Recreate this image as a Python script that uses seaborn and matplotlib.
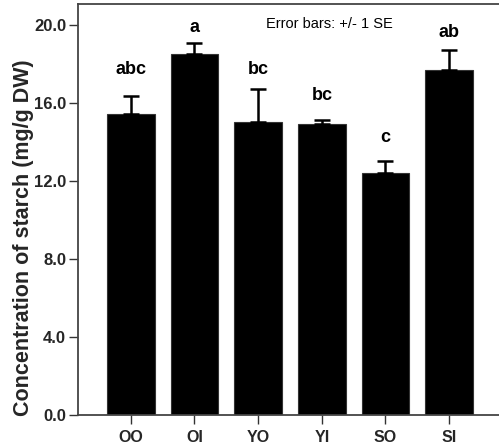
import matplotlib
matplotlib.use("Agg")
import matplotlib.pyplot as plt
import seaborn as sns
import pandas as pd

# Starch concentration per treatment group (mean and standard error)
groups = ["OO", "OI", "YO", "YI", "SO", "SI"]
means = [15.42, 18.50, 14.99, 14.91, 12.39, 17.69]
se = [0.94, 0.56, 1.71, 0.18, 0.60, 1.03]
letters = ["abc", "a", "bc", "bc", "c", "ab"]
letter_y = [17.45, 19.62, 17.48, 16.15, 13.98, 19.36]
yticks = [0.0, 4.0, 8.0, 12.0, 16.0, 20.0]

sns.set_style("white")
plt.rcParams["font.family"] = ["Liberation Sans", "DejaVu Sans"]

df = pd.DataFrame({"group": groups, "mean": means})

fig = plt.figure(figsize=(4.99, 4.46), dpi=100)
ax = fig.add_axes([0.1563, 0.0695, 0.8497, 0.9215])

sns.barplot(data=df, x="group", y="mean", order=groups, color="black",
            width=0.75, edgecolor="#333333", linewidth=0.8,
            saturation=1, errorbar=None, ax=ax)

xs = range(len(groups))
ax.errorbar(list(xs), means, yerr=[[0] * len(se), se], fmt="none",
            ecolor="black", elinewidth=1.8, capsize=6, capthick=1.8, zorder=3)

for x, lab, ly in zip(xs, letters, letter_y):
    ax.text(x, ly, lab, ha="center", va="baseline", fontsize=13,
            fontweight="bold", color="black")

ax.text(3.12, 20.02, "Error bars: +/- 1 SE", ha="center", va="center",
        fontsize=10.5, color="black")

ax.set_xlim(-0.83, 5.83)
ax.set_ylim(0, 21.05)
ax.set_yticks(yticks)
ax.set_yticklabels([f"{v:.1f}" for v in yticks], fontsize=12, fontweight="bold")
ax.set_xticks(list(xs))
ax.set_xticklabels(groups, fontsize=11.5, fontweight="bold")
ax.set_xlabel("")
ax.set_ylabel("Concentration of starch (mg/g DW)", fontsize=15.5,
              fontweight="bold")
ax.yaxis.set_label_coords(-0.103, 0.431)

for side in ["left", "bottom", "top", "right"]:
    ax.spines[side].set_color("#444444")
    ax.spines[side].set_linewidth(1.3)
ax.tick_params(axis="both", direction="out", length=6.5, width=1.0,
               color="#333333", left=True, bottom=True)
ax.tick_params(axis="y", pad=2)
ax.tick_params(axis="x", pad=4)

fig.savefig("out.png", dpi=100, facecolor="white")
